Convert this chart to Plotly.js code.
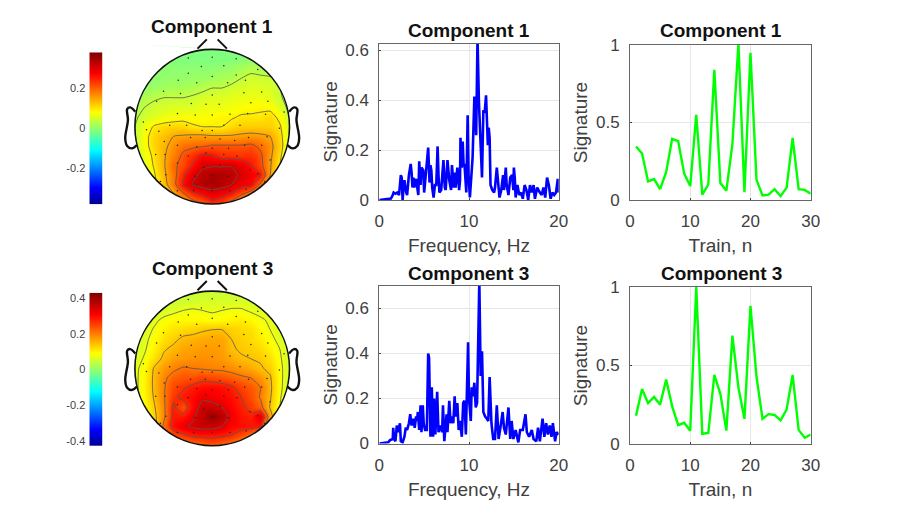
<!DOCTYPE html>
<html>
<head>
<meta charset="utf-8">
<script src="https://cdn.plot.ly/plotly-3.0.1.min.js"></script>
<style>body{margin:0;background:#fff}#chart{width:897px;height:513px}</style>
</head>
<body>
<div id="chart"></div>
<script>
/* topomap grids, rows run from the top of the head to the bottom */
var gridX = [-1,-0.875,-0.75,-0.625,-0.5,-0.375,-0.25,-0.125,0,0.125,0.25,0.375,0.5,0.625,0.75,0.875,1];
var gridY = [1,0.875,0.75,0.625,0.5,0.375,0.25,0.125,0,-0.125,-0.25,-0.375,-0.5,-0.625,-0.75,-0.875,-1];

var topo1 = [
  [-.01,-.01,-.01,-.01,-.01,-.01,-.01,-.01,-.01,-.01,-.01,-.01,-.01,-.01,-.01,-.01,-.01],
  [-.01,-.01,-.01,-.01,-.01,-.01,-.01,-.01,-.01,-.01,-.01,-.005,0,0,0,0,0],
  [0,0,0,0,0,0,0,0,0,.005,.01,.02,.03,.02,.02,.01,.01],
  [0,0,0,.005,.005,.005,.01,.01,.015,.02,.025,.04,.05,.05,.045,.03,.02],
  [0,.005,.01,.015,.02,.02,.025,.03,.04,.04,.05,.055,.06,.06,.055,.04,.025],
  [.01,.025,.035,.04,.04,.04,.045,.055,.06,.06,.065,.07,.07,.07,.065,.045,.025],
  [.02,.04,.05,.055,.06,.06,.06,.07,.07,.07,.075,.08,.085,.09,.085,.06,.03],
  [.035,.05,.06,.07,.075,.08,.08,.08,.085,.09,.09,.10,.10,.10,.11,.085,.04],
  [.04,.07,.10,.11,.115,.115,.10,.095,.095,.095,.11,.12,.12,.12,.12,.10,.05],
  [.04,.08,.115,.13,.15,.155,.16,.16,.155,.155,.155,.16,.165,.16,.15,.11,.05],
  [.04,.08,.115,.14,.165,.19,.195,.20,.21,.21,.21,.21,.215,.195,.165,.115,.05],
  [.03,.07,.105,.145,.175,.215,.24,.27,.262,.24,.24,.235,.24,.215,.16,.105,.04],
  [.02,.06,.10,.145,.195,.22,.265,.305,.31,.31,.312,.295,.26,.22,.155,.095,.03],
  [.01,.05,.09,.14,.185,.25,.30,.33,.345,.34,.33,.305,.285,.26,.15,.08,.02],
  [0,.04,.08,.13,.185,.265,.32,.335,.345,.335,.315,.285,.27,.195,.12,.06,.01],
  [0,.02,.05,.10,.145,.195,.24,.265,.29,.275,.25,.21,.17,.12,.08,.04,0],
  [0,.01,.03,.07,.10,.14,.18,.20,.24,.22,.18,.14,.10,.07,.04,.02,0]
];
var topo3 = [
  [.05,.05,.05,.05,.05,.05,.05,.05,.05,.05,.05,.05,.05,.05,.05,.05,.05],
  [.05,.05,.05,.05,.05,.05,.055,.06,.06,.06,.06,.06,.055,.05,.05,.05,.05],
  [.05,.05,.055,.06,.07,.08,.085,.08,.075,.08,.085,.085,.075,.07,.06,.05,.05],
  [.05,.055,.07,.09,.10,.10,.10,.10,.095,.10,.105,.11,.10,.085,.075,.06,.05],
  [.05,.06,.085,.105,.115,.125,.13,.14,.145,.145,.135,.125,.12,.10,.08,.06,.05],
  [.05,.07,.095,.12,.135,.155,.16,.165,.17,.17,.145,.135,.125,.11,.09,.07,.05],
  [.055,.075,.105,.14,.155,.17,.175,.18,.18,.175,.15,.14,.135,.125,.105,.08,.055],
  [.06,.085,.12,.155,.175,.18,.185,.19,.185,.18,.165,.15,.145,.14,.12,.085,.055],
  [.07,.095,.15,.18,.20,.215,.21,.205,.20,.20,.19,.18,.165,.15,.135,.09,.055],
  [.07,.10,.155,.20,.23,.24,.245,.26,.255,.245,.235,.22,.21,.185,.15,.09,.055],
  [.07,.10,.155,.205,.25,.27,.29,.30,.305,.30,.285,.255,.235,.21,.155,.09,.05],
  [.06,.10,.15,.205,.265,.29,.305,.33,.32,.31,.30,.275,.245,.205,.15,.085,.04],
  [.05,.09,.14,.20,.285,.24,.31,.36,.36,.34,.31,.285,.26,.23,.14,.08,.03],
  [.04,.08,.13,.20,.29,.29,.33,.37,.41,.38,.32,.295,.285,.34,.17,.06,.02],
  [.03,.07,.12,.22,.30,.33,.35,.36,.36,.34,.31,.30,.295,.29,.10,.04,.02],
  [.03,.06,.11,.17,.24,.26,.28,.285,.285,.28,.27,.24,.20,.12,.06,.03,.02],
  [.03,.05,.09,.14,.18,.20,.21,.22,.24,.22,.20,.17,.12,.07,.04,.02,.02]
];

/* electrodes, in head units */
var elecX = [-.31,0,.31,-.14,.15,.59,-.31,0,.31,-.44,-.2,.2,.43,-.63,-.41,0,.41,.64,-.72,-.27,-.08,.09,.5,.72,
  -.45,-.22,0,.23,.46,.69,.93,-.89,-.55,-.33,.15,.36,.87,-.85,-.69,-.13,0,-.28,-.09,.1,.29,.47,.71,
  -.62,-.45,-.2,0,.21,.42,.64,-.73,-.61,-.31,-.08,.15,.32,-.45,-.11,.1,.49,.75,-.6,-.22,0,.21,.59,-.45,-.24,0,.23,.44,-.67,.68];
var elecY = [.89,.9,.88,.78,.79,.74,.69,.65,.67,.6,.57,.57,.6,.46,.43,.41,.44,.45,.33,.3,.29,.29,.31,.33,
  .17,.15,.15,.16,.17,.16,.19,.06,.02,.02,.02,.02,-.02,-.04,-.06,-.05,-.05,-.14,-.14,-.16,-.18,-.14,-.13,
  -.19,-.24,-.26,-.28,-.28,-.24,-.24,-.36,-.36,-.38,-.34,-.36,-.38,-.47,-.53,-.49,-.56,-.43,-.62,-.64,-.63,-.64,-.61,-.83,-.83,-.83,-.83,-.81,-.71,-.71];

var colorbar1Levels = [-0.38,0,0.38];
var colorbar3Levels = [-0.43,0,0.43];

var freq1 = [0,.5,1,1.3,1.5,1.6,1.8,2,2.2,2.4,2.5,2.6,2.7,2.8,3,3.1,3.3,3.5,3.6,3.7,3.8,3.9,4.1,4.2,4.35,4.45,4.6,4.7,4.9,5,5.1,5.3,5.45,5.6,5.7,5.8,5.9,6.05,6.2,6.35,6.5,6.6,6.7,6.9,7,7.15,7.3,7.4,7.6,7.8,8,8.1,8.3,8.4,8.5,8.7,8.9,9,9.05,9.2,9.3,9.4,9.5,9.7,9.85,9.95,10.1,10.2,10.4,10.6,10.7,10.8,10.95,11.1,11.3,11.4,11.45,11.6,11.75,11.9,12.1,12.2,12.3,12.4,12.6,12.8,12.9,13.1,13.3,13.4,13.6,13.8,13.9,14.1,14.2,14.4,14.6,14.8,14.95,15,15.1,15.2,15.4,15.6,15.8,16,16.2,16.4,16.6,16.8,17,17.2,17.35,17.6,17.9,18.1,18.3,18.5,18.7,18.9,19.1,19.3,19.5,19.7,19.9,20];
var spectrum1 = [0,.002,.004,.006,.02,.03,.025,.03,.02,.1,.09,0,.05,.08,.03,.02,.1,.145,.11,.05,.09,.05,.085,.06,.02,.155,.06,.13,.12,.03,.07,.16,.21,.07,.14,.12,.05,.01,.06,.06,.215,.1,.03,.04,.08,.16,.05,.04,.16,.08,.04,.14,.05,.11,.05,.13,.04,.08,.25,.13,.235,.14,.14,.03,.34,.1,.01,.08,.17,.415,.34,.26,.65,.4,.22,.1,.09,.36,.35,.42,.22,.29,.25,.06,.04,.03,.05,.13,.05,.01,.04,.1,.04,.13,.06,.02,.09,.1,.04,.13,.09,.01,.06,.02,.03,.005,.06,.04,0,.06,.03,.06,.005,.05,.03,.02,.05,.01,.09,.06,.005,.03,.02,.03,.085,.03];

var freq3 = [0,.5,1,1.2,1.5,1.55,1.65,1.8,1.95,2.1,2.3,2.4,2.6,2.8,2.95,3.1,3.3,3.45,3.6,3.8,3.95,4.1,4.2,4.3,4.45,4.6,4.7,4.85,4.95,5.1,5.3,5.45,5.55,5.7,5.85,6,6.1,6.25,6.45,6.6,6.8,7,7.1,7.25,7.5,7.6,7.8,7.95,8.1,8.25,8.4,8.5,8.7,8.85,9,9.2,9.35,9.5,9.65,9.75,9.9,10,10.2,10.3,10.45,10.6,10.75,10.9,11,11.15,11.3,11.45,11.6,11.8,12,12.15,12.3,12.5,12.7,12.9,13.1,13.3,13.5,13.75,13.9,14.1,14.4,14.6,14.75,14.95,15.2,15.5,15.7,16,16.3,16.45,16.7,17,17.2,17.5,17.7,17.9,18.2,18.4,18.6,18.8,19,19.2,19.35,19.6,19.75,20];
var spectrum3 = [0,.002,.005,.015,.02,.07,.02,.01,.08,.05,.09,.01,.005,.03,.07,.06,.09,.13,.08,.11,.07,.12,.1,.14,.06,.17,.05,.17,.09,.06,.06,.4,.38,.03,.25,.03,.2,.04,.23,.05,.08,.05,.17,.01,.13,.05,.19,.09,.12,.09,.21,.12,.18,.06,.1,.03,.18,.19,.04,.2,.45,.2,.1,.25,.21,.27,.16,.18,.35,.72,.3,.41,.14,.12,.11,.1,.295,.09,.02,.02,.17,.02,.07,.14,.07,.04,.16,.02,.1,.02,.06,.005,.06,.06,.13,.05,.03,.06,.02,.01,.07,.01,.11,.03,.09,.04,.08,.03,.09,.01,.05,.04];

var trains = [1,2,3,4,5,6,7,8,9,10,11,12,13,14,15,16,17,18,19,20,21,22,23,24,25,26,27,28,29,30];
var signature1 = [.345,.30,.12,.135,.07,.18,.395,.38,.17,.09,.55,.035,.10,.84,.11,.06,.36,1.01,.05,.95,.13,.03,.035,.07,.025,.08,.40,.07,.065,.04];
var signature3 = [.18,.35,.26,.30,.25,.41,.24,.12,.135,.085,1.0,.065,.07,.44,.32,.085,.69,.36,.16,.88,.43,.16,.19,.185,.15,.22,.44,.09,.04,.06];

var W = 897, H = 513;
var TEXT = '#404040', FONT = 'Liberation Sans, Arial, sans-serif';
var jet = [[0,'rgb(0,0,143)'],[0.11,'rgb(0,0,255)'],[0.36,'rgb(0,255,255)'],[0.61,'rgb(255,255,0)'],[0.86,'rgb(255,0,0)'],[1,'rgb(128,0,0)']];

var data = [];
var layout = {
  width: W, height: H,
  margin: {l: 0, r: 0, t: 0, b: 0},
  paper_bgcolor: '#fff', plot_bgcolor: '#fff',
  showlegend: false,
  font: {family: FONT, color: TEXT},
  annotations: [], shapes: []
};
var axisNum = 0;

function addAxes(box, xopts, yopts) {
  axisNum++;
  var n = axisNum === 1 ? '' : axisNum;
  xopts.domain = [box[0] / W, box[1] / W];
  yopts.domain = [1 - box[3] / H, 1 - box[2] / H];
  xopts.anchor = 'y' + n;
  yopts.anchor = 'x' + n;
  layout['xaxis' + n] = xopts;
  layout['yaxis' + n] = yopts;
  return {x: 'x' + n, y: 'y' + n};
}

function addTitle(text, cx, cy) {
  layout.annotations.push({
    text: '<b>' + text + '</b>', xref: 'paper', yref: 'paper', x: cx / W, y: 1 - cy / H,
    showarrow: false, xanchor: 'center', yanchor: 'middle',
    font: {family: FONT, size: 19, color: '#111'}
  });
}

function hidden(range) {
  return {range: range, visible: false, fixedrange: true};
}

function addTopo(z, cx, cy, zlim, levels) {
  var half = 100, r = 77.3;
  var span = half / r;
  var ax = addAxes([cx - half, cx + half, cy - half, cy + half], hidden([-span, span]), hidden([-span, span]));
  data.push({type: 'heatmap', x: gridX, y: gridY, z: z, xaxis: ax.x, yaxis: ax.y,
    zmin: -zlim, zmax: zlim, colorscale: jet, zsmooth: 'best', showscale: false});
  data.push({type: 'contour', x: gridX, y: gridY, z: z, xaxis: ax.x, yaxis: ax.y,
    contours: {coloring: 'none', start: levels[0], end: levels[1], size: levels[2]},
    line: {color: '#555', width: 0.8, smoothing: 0.6}, showscale: false});

  // white ring so the square grid ends on the head circle
  var ringX = [-1.08, 1.08, 1.08, -1.08, -1.08], ringY = [1.08, 1.08, -1.08, -1.08, 1.08];
  for (var a = 0; a <= 120; a++) {
    var t = Math.PI / 2 + a / 120 * 2 * Math.PI;
    ringX.push(Math.cos(t));
    ringY.push(Math.sin(t));
  }
  ringX.push(-1.08); ringY.push(1.08);
  data.push({type: 'scatter', mode: 'lines', x: ringX, y: ringY, xaxis: ax.x, yaxis: ax.y,
    fill: 'toself', fillcolor: '#fff', line: {width: 0}});

  data.push({type: 'scatter', mode: 'markers', x: elecX, y: elecY, xaxis: ax.x, yaxis: ax.y,
    marker: {size: 1.5, color: '#222'}});

  // nose and ears
  data.push({type: 'scatter', mode: 'lines', x: [-.19, -.07, null, .19, .07], y: [1.01, 1.13, null, 1.01, 1.13],
    xaxis: ax.x, yaxis: ax.y, line: {color: '#111', width: 2}});
  [-1, 1].forEach(function (side) {
    data.push({type: 'scatter', mode: 'lines', xaxis: ax.x, yaxis: ax.y,
      x: [.995, 1.06, 1.1, 1.09, 1.125, 1.1, 1.04, .974].map(function (v) { return v * side; }),
      y: [.194, .25, .228, .086, -.15, -.25, -.28, -.237],
      line: {color: '#111', width: 2.4, shape: 'spline'}});
  });
  layout.shapes.push({type: 'circle', xref: ax.x, yref: ax.y, x0: -1, x1: 1, y0: -1, y1: 1,
    line: {color: '#111', width: 1.6}});
}

function addColorbar(levels, box, ticks, labels) {
  var ax = addAxes(box, hidden([0, 1]), {
    range: [levels[0], levels[2]], tickvals: ticks, ticktext: labels, ticks: '', showgrid: false, zeroline: false,
    showline: false, fixedrange: true, tickfont: {size: 11, color: TEXT, family: FONT}, ticklen: 0, ticklabelstandoff: 3
  });
  data.push({type: 'heatmap', x: [0, 1], y: levels, z: levels.map(function (v) { return [v, v]; }),
    xaxis: ax.x, yaxis: ax.y, zmin: levels[0], zmax: levels[2], colorscale: jet, zsmooth: 'best', showscale: false});
}

function lineAxes(box, xrange, xtitle, yrange, yticks, ystandoff) {
  return addAxes(box, {
    range: xrange, dtick: 10, ticks: 'inside', ticklen: 2, tickcolor: '#444', tickwidth: 1,
    showline: true, mirror: true, linecolor: '#666', linewidth: 1, ticklabelstandoff: 6,
    showgrid: true, gridcolor: '#e6e6e6', gridwidth: 1, zeroline: false, fixedrange: true,
    tickfont: {size: 17, color: TEXT, family: FONT},
    title: {text: xtitle, font: {size: 19, color: TEXT, family: FONT}, standoff: 8}
  }, {
    range: yrange, tickvals: yticks, ticks: 'inside', ticklen: 2, tickcolor: '#444', tickwidth: 1,
    showline: true, mirror: true, linecolor: '#666', linewidth: 1, ticklabelstandoff: 6,
    showgrid: true, gridcolor: '#e6e6e6', gridwidth: 1, zeroline: false, fixedrange: true,
    tickfont: {size: 17, color: TEXT, family: FONT},
    title: {text: 'Signature', font: {size: 19, color: TEXT, family: FONT}, standoff: ystandoff}
  });
}

function addLine(ax, x, y, color, width, noclip) {
  data.push({type: 'scatter', mode: 'lines', x: x, y: y, xaxis: ax.x, yaxis: ax.y,
    cliponaxis: !noclip, line: {color: color, width: width}});
}

addTopo(topo1, 212.2, 126.7, 0.38, [0.04, 0.315, 0.055]);
addTopo(topo3, 212.2, 368.4, 0.43, [0.08, 0.345, 0.065]);
addColorbar(colorbar1Levels, [89.3, 102.7, 52.3, 204.3], [-0.2, 0, 0.2], ['-0.2', '0', '0.2']);
addColorbar(colorbar3Levels, [89.3, 102.7, 292.7, 446], [-0.4, -0.2, 0, 0.2, 0.4], ['-0.4', '-0.2', '0', '0.2', '0.4']);

var spec1Ax = lineAxes([379.3, 558.7, 43.5, 200], [0, 20], 'Frequency, Hz', [0, 0.628], [0, 0.2, 0.4, 0.6], 2);
addLine(spec1Ax, freq1, spectrum1, '#0000ff', 2.6, false);
var spec3Ax = lineAxes([379.3, 558.7, 286, 443.5], [0, 20], 'Frequency, Hz', [0, 0.7], [0, 0.2, 0.4, 0.6], 2);
addLine(spec3Ax, freq3, spectrum3, '#0000ff', 2.6, false);
var train1Ax = lineAxes([630, 810.7, 45, 200], [0, 30], 'Train, n', [0, 1], [0, 0.5, 1], 3);
addLine(train1Ax, trains, signature1, '#00ff00', 2.4, true);
var train3Ax = lineAxes([630, 810.7, 287, 444], [0, 30], 'Train, n', [0, 1], [0, 0.5, 1], 3);
addLine(train3Ax, trains, signature3, '#00ff00', 2.4, true);

addTitle('Component 1', 212, 26);
addTitle('Component 3', 212, 268);
addTitle('Component 1', 468.7, 31);
addTitle('Component 3', 468.7, 273);
addTitle('Component 1', 721, 31);
addTitle('Component 3', 721, 273);

Plotly.newPlot('chart', data, layout, {staticPlot: true});
</script>
</body>
</html>
